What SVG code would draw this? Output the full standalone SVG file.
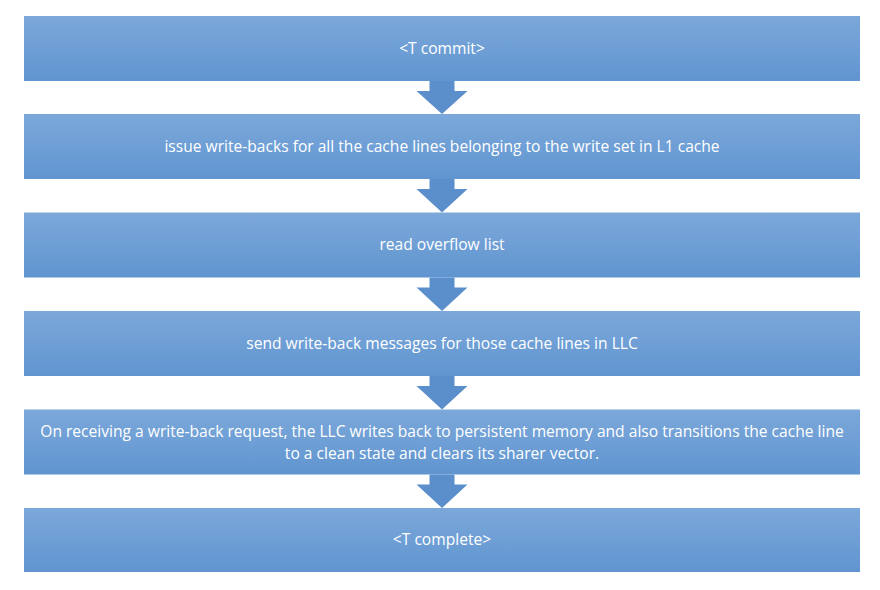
<svg xmlns="http://www.w3.org/2000/svg" width="880" height="590" viewBox="0 0 880 590">
<defs>
<linearGradient id="g" x1="0" y1="0" x2="0" y2="1">
<stop offset="0" stop-color="#7ca8da"/>
<stop offset="1" stop-color="#6095d0"/>
</linearGradient>
<style>
.box{fill:url(#g);}
.arr{fill:#5b8fcc;}
text{font-family:"Open Sans","Liberation Sans",Arial,sans-serif;font-size:15.6px;fill:#ffffff;text-anchor:middle;}
</style>
</defs>
<rect width="880" height="590" fill="#ffffff"/>
<g id="connectors">
<path class="arr" d="M429.5,81 H454.5 V91 H467.5 L442,114 L416.5,91 H429.5 Z"/>
<path class="arr" d="M429.5,179 H454.5 V189 H467.5 L442,212.5 L416.5,189 H429.5 Z"/>
<path class="arr" d="M429.5,277.5 H454.5 V287.5 H467.5 L442,311 L416.5,287.5 H429.5 Z"/>
<path class="arr" d="M429.5,376 H454.5 V386 H467.5 L442,409.5 L416.5,386 H429.5 Z"/>
<path class="arr" d="M429.5,474.5 H454.5 V484.5 H467.5 L442,508 L416.5,484.5 H429.5 Z"/>
</g>
<g id="n1"><rect class="box" x="24" y="16" width="836" height="65"/><text x="442" y="53.5">&lt;T commit&gt;</text></g>
<g id="n2"><rect class="box" x="24" y="114" width="836" height="65"/><text x="442" y="151.5">issue write-backs for all the cache lines belonging to the write set in L1 cache</text></g>
<g id="n3"><rect class="box" x="24" y="212.5" width="836" height="65"/><text x="442" y="250">read overflow list</text></g>
<g id="n4"><rect class="box" x="24" y="311" width="836" height="65"/><text x="442" y="348.5">send write-back messages for those cache lines in LLC</text></g>
<g id="n5"><rect class="box" x="24" y="409.5" width="836" height="65"/><text x="442" y="437">On receiving a write-back request, the LLC writes back to persistent memory and also transitions the cache line</text><text x="442" y="459">to a clean state and clears its sharer vector.</text></g>
<g id="n6"><rect class="box" x="24" y="508" width="836" height="64"/><text x="442" y="545">&lt;T complete&gt;</text></g>
</svg>
